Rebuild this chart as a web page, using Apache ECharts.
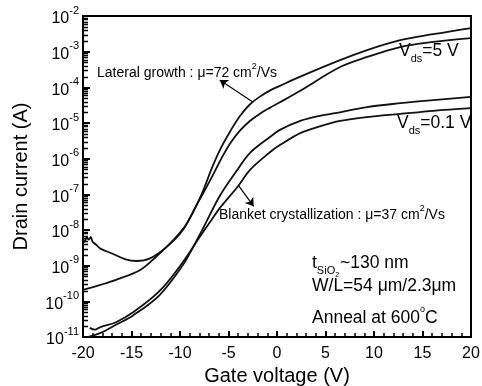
<!DOCTYPE html>
<html>
<head>
<meta charset="utf-8">
<script src="https://cdn.jsdelivr.net/npm/echarts@6/dist/echarts.min.js"></script>
<style>
  html, body { margin: 0; padding: 0; background: #fff; }
  #chart { width: 482px; height: 386px; }
</style>
</head>
<body>
<div id="chart"></div>
<script>
// [gate voltage (V), drain current (A)]
const lateralVds5 = [[-20, 2.1e-10], [-18.2, 2.9e-10], [-16.6, 4.0e-10], [-14.1, 7.6e-10], [-12.5, 1.75e-9],
  [-10.7, 5.2e-9], [-9.4, 1.38e-8], [-7.9, 8.4e-8], [-6.6, 6.5e-7], [-5.7, 2.2e-6], [-4.8, 6.0e-6],
  [-3.8, 1.6e-5], [-2.8, 3.3e-5], [-1.8, 5.4e-5], [-0.7, 8.2e-5], [0.3, 1.1e-4], [2.4, 2.0e-4],
  [6.5, 5.8e-4], [9.3, 1.11e-3], [12.7, 2.1e-3], [16.1, 3.1e-3], [20, 4.6e-3]];
const blanketVds5 = [[-20, 4.3e-9], [-19.8, 5.0e-9], [-19.6, 6.2e-9], [-19.4, 5.4e-9], [-19.2, 6.4e-9],
  [-19.0, 4.6e-9], [-18.7, 4.0e-9], [-18.2, 3.0e-9], [-17.0, 2.2e-9], [-15.6, 1.5e-9], [-14.5, 1.35e-9],
  [-13.1, 1.6e-9], [-11.4, 3.3e-9], [-9.7, 1.0e-8], [-8.3, 5.0e-8], [-7.6, 1.09e-7], [-6.6, 3.5e-7],
  [-5.7, 1.05e-6], [-4.8, 2.75e-6], [-3.8, 6.2e-6], [-2.8, 1.14e-5], [-1.8, 1.8e-5], [-0.7, 2.7e-5],
  [0.3, 3.8e-5], [2.4, 8.0e-5], [6.5, 3.7e-4], [9.3, 7.1e-4], [12.7, 1.35e-3], [16.1, 1.87e-3], [20, 2.4e-3]];
const lateralVds01 = [[-19.5, 1.0e-11], [-18.2, 1.3e-11], [-16.6, 2.2e-11], [-14.8, 4.1e-11], [-12.1, 1.5e-10],
  [-9.7, 1.04e-9], [-8.7, 3.1e-9], [-7.6, 1.14e-8], [-5.9, 9.0e-8], [-4.1, 4.8e-7], [-2.8, 1.44e-6],
  [-0.7, 4.1e-6], [0.3, 6.4e-6], [2.4, 1.14e-5], [4.4, 1.58e-5], [6.5, 2.0e-5], [9.3, 2.8e-5],
  [12.7, 3.6e-5], [16.1, 4.4e-5], [20, 5.4e-5]];
const blanketVds01 = [[-19.3, 1.8e-11], [-18.8, 1.6e-11], [-18.2, 1.9e-11], [-16.6, 2.6e-11], [-14.8, 5.0e-11],
  [-12.1, 1.95e-10], [-9.7, 1.27e-9], [-7.9, 6.8e-9], [-6.9, 1.68e-8], [-5.9, 4.1e-8], [-4.0, 1.71e-7],
  [-2.8, 4.8e-7], [-0.7, 1.54e-6], [0.3, 2.4e-6], [2.4, 5.2e-6], [4.4, 8.0e-6], [6.5, 1.14e-5],
  [9.3, 1.47e-5], [12.7, 1.8e-5], [16.1, 2.2e-5], [20, 2.6e-5]];

// arrows: [tail, head]
const lateralArrow = [[-2.5, 3.9e-5], [-5.9, 1.6e-4]];
const blanketArrow = [[-4.0, 1.8e-7], [-2.4, 4.6e-8]];

const xTicks = { min: -20, max: 20, step: 5 };
const yDecades = { min: -11, max: -2 };   // exponents of 10

const FONT = 'Liberation Sans';

// log minor ticks 2..9 in each decade
const minorY = [];
for (let e = yDecades.min; e < yDecades.max; e++) {
  for (let m = 2; m <= 9; m++) minorY.push(m * Math.pow(10, e));
}

const chart = echarts.init(document.getElementById('chart'));

function curve(data) {
  return {
    type: 'line',
    data: data,
    showSymbol: false,
    smooth: 0.35,
    lineStyle: { color: '#111', width: 1.8 },
    xAxisIndex: 0,
    yAxisIndex: 0
  };
}

const noteRich = {
  n: { fontFamily: FONT, fontSize: 14, color: '#000', lineHeight: 18, verticalAlign: 'bottom' },
  b: { fontFamily: FONT, fontSize: 17.5, color: '#000', lineHeight: 22, verticalAlign: 'bottom' },
  sup: { fontFamily: FONT, fontSize: 9, color: '#000', verticalAlign: 'top' },
  sub: { fontFamily: FONT, fontSize: 11, color: '#000', verticalAlign: 'bottom', padding: [0, 0, -4, 0] },
  sub2: { fontFamily: FONT, fontSize: 7, color: '#000', verticalAlign: 'bottom', padding: [0, 1, -7, 0] }
};

function note(x, y, text) {
  return {
    type: 'text', left: x, top: y, silent: true,
    style: { text: text, rich: noteRich, fill: '#000' }
  };
}

const option = {
  animation: false,
  backgroundColor: '#fff',
  grid: {
    left: 83, right: 11, top: 16, bottom: 49,
    show: true, borderColor: '#000', borderWidth: 2,
    outerBoundsMode: 'none'
  },
  xAxis: [{
    type: 'value',
    min: xTicks.min, max: xTicks.max, interval: xTicks.step,
    name: 'Gate voltage (V)',
    nameLocation: 'middle',
    nameGap: 27,
    nameTextStyle: { fontFamily: FONT, fontSize: 20, color: '#000' },
    axisLine: { show: true, onZero: false, lineStyle: { color: '#000', width: 2 } },
    axisTick: { show: true, inside: true, length: 6, lineStyle: { color: '#000', width: 2 } },
    minorTick: { show: true, splitNumber: 5, length: 4, lineStyle: { color: '#000', width: 1.5 } },
    axisLabel: { fontFamily: FONT, fontSize: 16, color: '#000', margin: 9 },
    splitLine: { show: false }
  }],
  yAxis: [{
    type: 'log',
    logBase: 10,
    min: Math.pow(10, yDecades.min), max: Math.pow(10, yDecades.max),
    position: 'left',
    name: 'Drain current (A)',
    nameLocation: 'middle',
    nameGap: 52,
    nameTextStyle: { fontFamily: FONT, fontSize: 20, color: '#000' },
    axisLine: { show: true, onZero: false, lineStyle: { color: '#000', width: 2 } },
    axisTick: { show: true, inside: true, length: 7, lineStyle: { color: '#000', width: 2 } },
    axisLabel: {
      margin: 4,
      formatter: v => '{b|10}{sup|' + Math.round(Math.log10(v)) + '}',
      rich: {
        b: { fontFamily: FONT, fontSize: 16, color: '#000', lineHeight: 22, verticalAlign: 'bottom' },
        sup: { fontFamily: FONT, fontSize: 11, color: '#000', verticalAlign: 'top' }
      }
    },
    splitLine: { show: false }
  }],
  series: [
    Object.assign(curve(lateralVds5), {
      markLine: {
        silent: true,
        symbol: ['none', 'arrow'],
        symbolSize: 8,
        label: { show: false },
        lineStyle: { color: '#000', width: 1.2, type: 'solid' },
        data: [
          [{ coord: lateralArrow[0] }, { coord: lateralArrow[1] }],
          [{ coord: blanketArrow[0] }, { coord: blanketArrow[1] }]
        ]
      }
    }),
    curve(blanketVds5),
    curve(lateralVds01),
    curve(blanketVds01)
  ]
};

chart.setOption(option);

// annotations + log minor ticks, placed once the axes are laid out
const x0 = chart.convertToPixel({ xAxisIndex: 0 }, xTicks.min);
const graphics = [
  note(97, 62, '{n|Lateral growth : μ=72 cm}{sup|2}{n|/Vs}'),
  note(399, 42, '{b|V}{sub|ds}{b|=5 V}'),
  note(397, 114, '{b|V}{sub|ds}{b|=0.1 V}'),
  note(219, 204, '{n|Blanket crystallization : μ=37 cm}{sup|2}{n|/Vs}'),
  note(312, 254, '{b|t}{sub|SiO}{sub2|2}{b|~130 nm}'),
  note(312, 277, '{b|W/L=54 μm/2.3μm}'),
  note(312, 305, '{b|Anneal at 600}{sup|o}{b|C}')
];
minorY.forEach(v => {
  const y = Math.round(chart.convertToPixel({ yAxisIndex: 0 }, v)) + 0.5;
  graphics.push({
    type: 'line', silent: true, z: 10,
    shape: { x1: x0, y1: y, x2: x0 + 5, y2: y },
    style: { stroke: '#000', lineWidth: 1.5 }
  });
});
chart.setOption({ graphic: graphics });
</script>
</body>
</html>
